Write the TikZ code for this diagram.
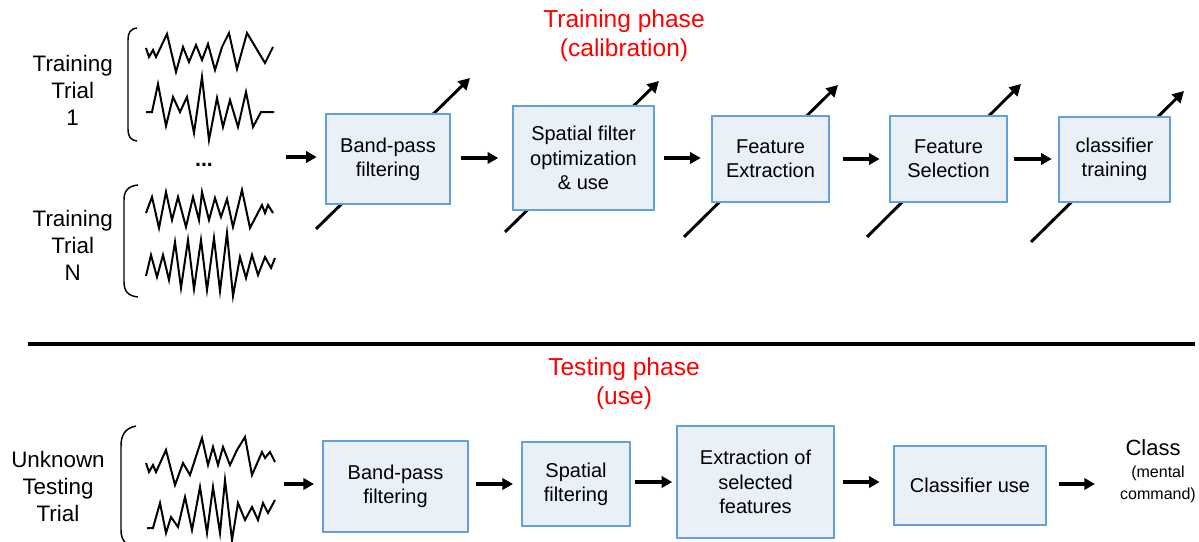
\documentclass[tikz,border=0pt]{standalone}
\usepackage{fontspec}
\setmainfont{Liberation Sans}
\usetikzlibrary{arrows.meta}
\definecolor{boxfill}{RGB}{233,240,248}
\definecolor{boxline}{RGB}{100,160,218}
\definecolor{titlered}{RGB}{255,0,0}
\begin{document}
\begin{tikzpicture}[x=0.75pt,y=-0.75pt,
  stage/.style={draw=boxline, line width=1.5pt, fill=boxfill, inner sep=0pt, align=center,
    font=\fontsize{15}{18.2}\selectfont},
  flow/.style={line width=2.4pt, -{Triangle[length=8pt,width=8.5pt]}},
  diag/.style={line width=2.2pt, -{Triangle[length=8.5pt,width=9pt]}},
  wave/.style={line width=1.5pt},
  bracket/.style={line width=1.1pt},
  lbl/.style={inner sep=0pt, align=center, font=\fontsize{16.8}{20.25}\selectfont},
  ttl/.style={inner sep=0pt, align=center, text=titlered, font=\fontsize{18.4}{22}\selectfont}]
\useasboundingbox (0,0) rectangle (1199,542);
\clip (0,0) rectangle (1199,542);

% titles
\node[ttl] (ttrain) at (624,35.4) {Training phase\\(calibration)};
\node[ttl] (ttest) at (624,383.6) {Testing phase\\(use)};

% separator
\coordinate (sepL) at (28,344);
\coordinate (sepR) at (1195,344);
\draw[line width=2.5pt] (sepL) -- (sepR);

% left labels
\node[lbl] (trial1) at (72.7,90) {Training\\Trial\\1};
\node[lbl] (trialN) at (72.7,245) {Training\\Trial\\N};
\node[lbl] (unk) at (58,486) {Unknown\\Testing\\Trial};
\node[inner sep=0pt, font=\fontsize{16}{18}\selectfont\bfseries] (dots) at (204,165) {...};

% brackets
\draw[bracket] (137,28) .. controls (130,29) and (128,33) .. (128,40) -- (128,129)
  .. controls (128,136) and (130,140) .. (137,141);
\draw[bracket] (138,185) .. controls (128,186) and (124,191) .. (124,200) -- (124,282)
  .. controls (124,291) and (128,296) .. (138,297);
\draw[bracket] (136,426) .. controls (126,428) and (121,434) .. (121,446) -- (121,530)
  .. controls (121,540) and (126,546) .. (136,548);

% waveforms
\draw[wave] (146,48) -- (149,57) -- (153,50) -- (156,57) -- (167,34) -- (176,72) -- (183,47)
  -- (189,62) -- (196,45) -- (202,60) -- (208,44) -- (215,70) -- (222,47) -- (229,33)
  -- (237,69) -- (247,33) -- (265,63) -- (273,47);
\draw[wave] (146,112) -- (152,112) -- (158,84) -- (166,126) -- (173,97) -- (180,112) -- (187,97)
  -- (194,133) -- (202,77) -- (209,140) -- (217,98) -- (223,127) -- (230,100) -- (238,127)
  -- (246,92) -- (253,127) -- (261,112) -- (274,112);
\draw[wave] (146,213) -- (152,197) -- (159,228) -- (166,192) -- (172,220) -- (178,197) -- (186,227)
  -- (193,197) -- (199,220) -- (202,192) -- (209,220) -- (215,198) -- (221,217) -- (227,199)
  -- (233,227) -- (242,190) -- (250,228) -- (262,205) -- (265,213) -- (268,205) -- (273,213);
\draw[wave] (146,276) -- (151,255) -- (157,277) -- (163,255) -- (169,280) -- (175,242) -- (181,288)
  -- (188,240) -- (194,289) -- (201,240) -- (207,290) -- (214,238) -- (220,291) -- (227,233)
  -- (233,296) -- (240,257) -- (246,278) -- (252,255) -- (258,275) -- (265,257) -- (271,268)
  -- (275,258);
\draw[wave] (146,463) -- (149,472) -- (153,465) -- (156,472) -- (166,450) -- (175,485) -- (183,463)
  -- (190,475) -- (202,438) -- (208,465) -- (213,447) -- (218,465) -- (223,447) -- (230,465)
  -- (237,450) -- (245,437) -- (252,475) -- (262,452) -- (265,458) -- (270,452) -- (275,462);
\draw[wave] (147,528) -- (153,528) -- (160,503) -- (166,533) -- (171,517) -- (178,527) -- (185,497)
  -- (192,530) -- (200,487) -- (207,533) -- (213,487) -- (220,533) -- (225,480) -- (232,540)
  -- (238,503) -- (245,520) -- (252,507) -- (258,520) -- (263,503) -- (268,513) -- (275,500);

% diagonal arrows (behind boxes)
\coordinate (d1s) at (316,229); \coordinate (d1e) at (470,78);
\coordinate (d2s) at (505,232); \coordinate (d2e) at (659,81);
\coordinate (d3s) at (684,237); \coordinate (d3e) at (838,85);
\coordinate (d4s) at (867,237); \coordinate (d4e) at (1021,84);
\coordinate (d5s) at (1031,242); \coordinate (d5e) at (1184,91);
\draw[diag] (d1s) -- (d1e);
\draw[diag] (d2s) -- (d2e);
\draw[diag] (d3s) -- (d3e);
\draw[diag] (d4s) -- (d4e);
\draw[diag] (d5s) -- (d5e);

% training boxes
\node[stage, minimum width=93pt, minimum height=67.5pt] (b1) at (388,159) {Band-pass\\filtering};
\node[stage, minimum width=105.75pt, minimum height=78pt] (b2) at (583.5,158) {Spatial filter\\optimization\\\& use};
\node[stage, minimum width=87.75pt, minimum height=64.5pt] (b3) at (770.5,159) {Feature\\Extraction};
\node[stage, minimum width=87.75pt, minimum height=64.5pt] (b4) at (948.5,159) {Feature\\Selection};
\node[stage, minimum width=83.25pt, minimum height=63.75pt] (b5) at (1114.5,159.5) {classifier\\training};

% testing boxes
\node[stage, minimum width=108.75pt, minimum height=68.25pt] (c1) at (395.5,486.5) {Band-pass\\filtering};
\node[stage, minimum width=81pt, minimum height=63pt] (c2) at (576,484) {Spatial\\filtering};
\node[stage, minimum width=117.75pt, minimum height=84pt] (c3) at (755.5,482) {Extraction of\\selected\\features};
\node[stage, minimum width=114pt, minimum height=59.25pt] (c4) at (970,485.5) {Classifier use};

% output label
\node[inner sep=0pt, font=\fontsize{16.5}{19}\selectfont] (cls) at (1153,448) {Class};
\node[inner sep=0pt, align=center, font=\fontsize{12}{16.5}\selectfont] (clsub) at (1158,484) {(mental\\command)};

% training flow
\coordinate (tin) at (286,157);
\draw[flow, shorten >=6.2pt] (tin) -- (tin -| b1.west);
\draw[flow, shorten <=7.5pt, shorten >=10.3pt] (b1.east |- b2.west) -- (b2.west);
\draw[flow, shorten <=6.5pt, shorten >=7.7pt] (b2.east) -- (b2.east -| b3.west);
\draw[flow, shorten <=9.75pt, shorten >=7pt] (b3.east) -- (b4.west);
\draw[flow, shorten <=4.3pt, shorten >=4.7pt] (b4.east) -- (b4.east -| b5.west);

% testing flow
\coordinate (lin) at (284,484);
\draw[flow, shorten >=6pt] (lin) -- (lin -| c1.west);
\draw[flow, shorten <=5.25pt, shorten >=6pt] (c1.east |- c2.west) -- (c2.west);
\draw[flow, shorten <=3pt, shorten >=2.8pt] (c2.east |- c3.west) -- (c3.west);
\draw[flow, shorten <=6pt, shorten >=10pt] (c3.east) -- (c3.east -| c4.west);
\draw[flow, shorten <=9pt, shorten >=18.75pt] (c4.east |- clsub.west) -- (clsub.west);
\end{tikzpicture}
\end{document}
